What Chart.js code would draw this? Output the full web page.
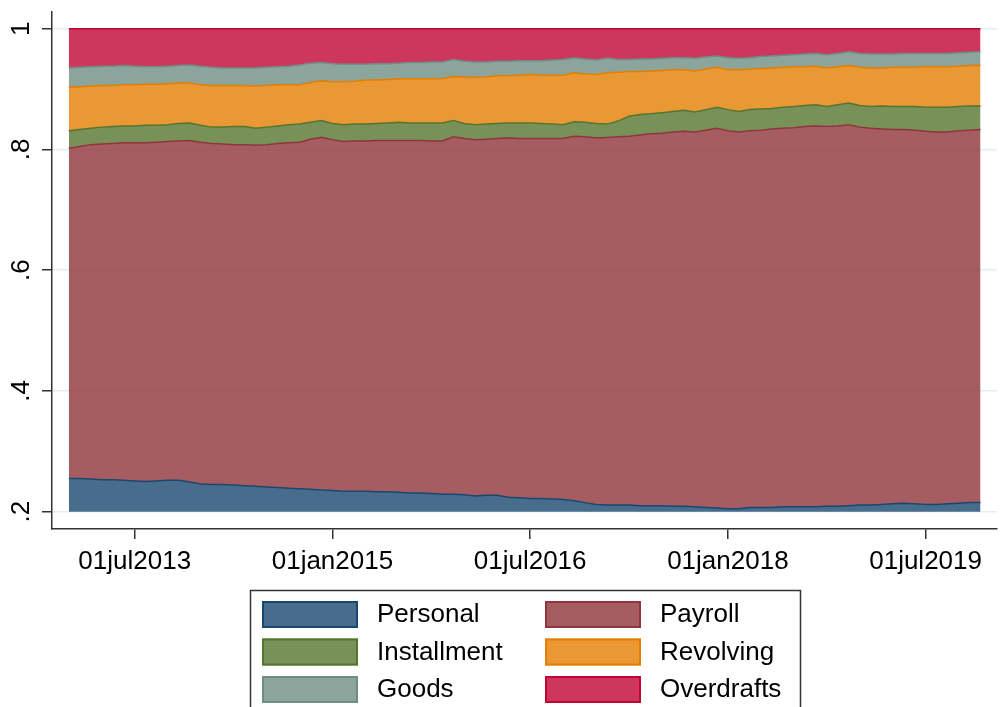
<!DOCTYPE html>
<html>
<head>
<meta charset="utf-8">
<script src="https://cdn.jsdelivr.net/npm/chart.js@4.4.1/dist/chart.umd.min.js"></script>
<style>
    html, body { margin: 0; padding: 0; background: #fff; }
    canvas { display: block; }
</style>
</head>
<body>
<canvas id="graficoShares" width="1007" height="707"></canvas>
<script>
// monthly observations, jan2013 .. dec2019
const mesesNombre = ['jan','feb','mar','apr','may','jun','jul','aug','sep','oct','nov','dec'];
const months = [];
for (let y = 2013; y <= 2019; y++) {
    mesesNombre.forEach(m => months.push('01' + m + y));
}

// shares of each credit type (sum to 1)
const personal = [.255,.255,.254,.253,.253,.252,.251,.250,.251,.252,
    .252,.249,.246,.245,.245,.244,.243,.242,.241,.240,
    .239,.238,.237,.236,.235,.234,.234,.234,.233,.233,
    .232,.231,.231,.230,.229,.229,.228,.226,.227,.227,
    .224,.223,.222,.222,.221,.220,.218,.215,.212,.211,
    .211,.211,.210,.210,.210,.209,.209,.208,.207,.206,
    .205,.205,.207,.207,.207,.208,.208,.208,.208,.209,
    .209,.210,.211,.211,.212,.213,.214,.213,.212,.212,
    .213,.214,.215,.215];
const payroll = [.547,.550,.554,.556,.557,.559,.560,.561,.561,.561,
    .562,.566,.566,.565,.564,.564,.565,.565,.567,.570,
    .572,.574,.580,.584,.581,.579,.580,.580,.582,.582,
    .583,.584,.584,.584,.585,.592,.590,.590,.590,.591,
    .595,.595,.596,.596,.597,.598,.604,.606,.607,.609,
    .610,.611,.614,.616,.617,.620,.621,.621,.625,.629,
    .626,.624,.624,.625,.627,.627,.628,.630,.631,.629,
    .630,.631,.626,.624,.622,.620,.619,.619,.618,.617,
    .616,.617,.617,.618];
const installment = [.029,.028,.027,.028,.028,.028,.028,.029,.028,.028,
    .029,.029,.028,.027,.028,.030,.030,.028,.029,.029,
    .030,.030,.028,.028,.027,.028,.028,.028,.028,.029,
    .030,.029,.029,.030,.030,.027,.025,.025,.025,.025,
    .025,.026,.026,.025,.024,.023,.024,.024,.024,.022,
    .026,.033,.034,.033,.034,.034,.035,.033,.034,.035,
    .035,.034,.035,.035,.034,.035,.035,.035,.035,.033,
    .035,.036,.036,.036,.038,.038,.038,.039,.040,.041,
    .041,.040,.040,.039];
const revolving = [.072,.071,.070,.069,.068,.068,.068,.068,.068,.068,
    .067,.066,.067,.069,.069,.068,.068,.070,.069,.068,
    .066,.065,.066,.066,.069,.071,.071,.073,.072,.072,
    .072,.073,.073,.073,.073,.073,.077,.078,.078,.079,
    .078,.079,.080,.080,.081,.082,.081,.080,.081,.085,
    .081,.074,.071,.071,.070,.069,.067,.068,.067,.066,
    .066,.069,.067,.067,.067,.066,.066,.064,.064,.064,
    .063,.062,.063,.064,.063,.065,.065,.065,.067,.067,
    .067,.067,.067,.067];
const goods = [.032,.032,.032,.032,.032,.032,.031,.029,.029,.029,
    .029,.030,.031,.030,.029,.029,.029,.030,.030,.030,
    .031,.033,.032,.030,.030,.029,.028,.026,.027,.026,
    .026,.027,.027,.028,.028,.028,.026,.026,.025,.024,
    .024,.024,.023,.024,.025,.026,.025,.025,.024,.024,
    .021,.020,.021,.020,.020,.020,.020,.021,.020,.019,
    .020,.019,.019,.020,.020,.020,.020,.021,.021,.022,
    .022,.023,.023,.023,.023,.022,.023,.023,.022,.022,
    .022,.022,.022,.023];
const overdrafts = [.065,.064,.063,.062,.062,.061,.062,.063,.063,.062,
    .061,.060,.062,.064,.065,.065,.065,.065,.064,.063,
    .062,.060,.057,.056,.058,.059,.059,.059,.058,.058,
    .057,.056,.056,.055,.055,.051,.054,.055,.055,.054,
    .054,.053,.053,.053,.052,.051,.048,.050,.052,.049,
    .051,.051,.050,.050,.049,.048,.048,.049,.047,.045,
    .048,.049,.048,.046,.045,.044,.043,.042,.041,.043,
    .041,.038,.041,.042,.042,.042,.041,.041,.041,.041,
    .041,.040,.039,.038];

const seriesNames = ['Personal', 'Payroll', 'Installment', 'Revolving', 'Goods', 'Overdrafts'];
const seriesData = [personal, payroll, installment, revolving, goods, overdrafts];

// axis ticks (x ticks as month index from jan2013)
const xTickMonths = [6, 24, 42, 60, 78];
const xTickLabels = ['01jul2013', '01jan2015', '01jul2016', '01jan2018', '01jul2019'];
const yTicks = [0.2, 0.4, 0.6, 0.8, 1];
const yTickLabels = ['.2', '.4', '.6', '.8', '1'];

// stata s2color tones
const colores = ['26,71,111', '144,53,59', '85,117,47', '227,126,0', '110,142,132', '193,5,52'];

const fuente = "'Liberation Sans', Arial, sans-serif";
Chart.defaults.font.family = fuente;
Chart.defaults.font.size = 26;
Chart.defaults.color = '#000';

// legend drawn like the stata box, two columns
const leyendaStata = {
    id: 'leyendaStata',
    afterDraw(chart) {
        const ctx = chart.ctx;
        ctx.save();
        ctx.lineWidth = 1.5;
        ctx.strokeStyle = '#333';
        ctx.strokeRect(250.5, 590.5, 550, 140);
        ctx.font = '26px ' + fuente;
        ctx.textBaseline = 'middle';
        chart.data.datasets.forEach((ds, k) => {
            const x = 262 + (k % 2) * 283;
            const y = 601 + Math.floor(k / 2) * 37.5;
            ctx.fillStyle = ds.backgroundColor;
            ctx.fillRect(x, y, 96, 27);
            ctx.lineWidth = 2;
            ctx.strokeStyle = ds.borderColor;
            ctx.strokeRect(x + 1, y + 1, 94, 25);
            ctx.fillStyle = '#000';
            ctx.fillText(ds.label, x + 115, y + 14);
        });
        ctx.restore();
    }
};

const grafico = document.querySelector('#graficoShares');

new Chart(grafico, {
    type: 'line',
    data: {
        datasets: seriesData.map((serie, k) => ({
            label: seriesNames[k],
            data: serie.map((v, i) => ({ x: i, y: v, mes: months[i] })),
            borderColor: 'rgb(' + colores[k] + ')',
            backgroundColor: 'rgba(' + colores[k] + ',0.8)',
            fill: k === 0 ? { value: 0.2 } : '-1',
            borderWidth: 1.5,
            pointRadius: 0,
            tension: 0
        }))
    },
    options: {
        responsive: false,
        animation: false,
        layout: { padding: { top: 12, right: 10, left: 0, bottom: 0 } },
        plugins: {
            legend: { display: false },
            tooltip: { enabled: false }
        },
        scales: {
            x: {
                type: 'linear',
                min: -1.53,
                max: 84.5,
                afterBuildTicks: s => { s.ticks = xTickMonths.map(v => ({ value: v })); },
                afterFit: s => { s.height = 178; s.paddingLeft = 0; s.paddingRight = 0; },
                grid: { drawOnChartArea: false, tickLength: 10, tickColor: '#333', tickWidth: 1.5, lineWidth: 1.5 },
                border: { color: '#333', width: 1.5 },
                ticks: {
                    autoSkip: false,
                    maxRotation: 0,
                    padding: 7,
                    callback: (v, i) => xTickLabels[i]
                }
            },
            y: {
                type: 'linear',
                stacked: true,
                min: 0.1713,
                max: 1.0277,
                afterBuildTicks: s => { s.ticks = yTicks.map(v => ({ value: v })); },
                afterFit: s => { s.width = 52; s.paddingTop = 0; s.paddingBottom = 0; },
                grid: { color: '#e4edf1', lineWidth: 1.5, tickLength: 10, tickColor: '#333', tickWidth: 1.5 },
                border: { color: '#333', width: 1.5 },
                ticks: {
                    minRotation: 90,
                    maxRotation: 90,
                    crossAlign: 'center',
                    padding: 9,
                    callback: (v, i) => yTickLabels[i]
                }
            }
        }
    },
    plugins: [leyendaStata]
});
</script>
</body>
</html>
